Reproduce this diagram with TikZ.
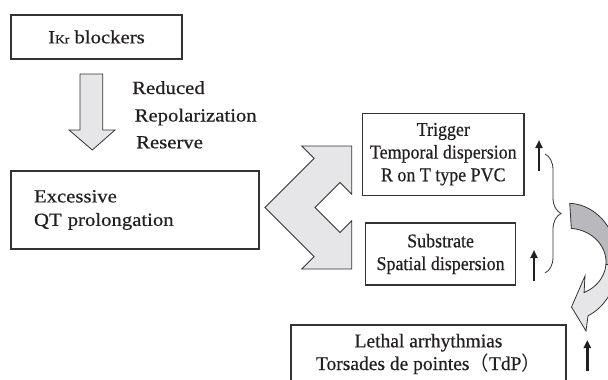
\documentclass[tikz,border=0pt]{standalone}
\usepackage{fontspec}
\setmainfont{Liberation Serif}
\newfontfamily\wideserif[FakeStretch=1.12,FakeBold=0.6]{Liberation Serif}
\newfontfamily\narrowserif[FakeStretch=0.92,FakeBold=0.5]{Liberation Serif}
\newfontfamily\midserif[FakeStretch=1.0,FakeBold=0.5]{Liberation Serif}
\newfontfamily\cjkfont{Noto Sans CJK JP}
\usetikzlibrary{arrows.meta,decorations.pathreplacing}
\definecolor{boxc}{HTML}{333333}
\definecolor{lightg}{HTML}{E6E6E8}
\definecolor{darkg}{HTML}{B9B9BD}
\definecolor{txt}{HTML}{231F20}
\begin{document}
\begin{tikzpicture}[x=1pt,y=-1pt,
  box/.style={draw=boxc, line width=1.1pt, inner sep=0pt, text=txt},
  lbl/.style={inner sep=0pt, text=txt, font=\wideserif\fontsize{18.5}{20}\selectfont},
  blockarrow/.style={fill=lightg, draw=boxc, line width=0.8pt, line join=miter},
  darkarrow/.style={fill=darkg, draw=boxc, line width=0.8pt, line join=miter},
  uparrow/.style={draw=txt, line width=2.4pt, -{Triangle[length=8pt,width=7pt]}},
  bracestyle/.style={draw=boxc, line width=0.8pt, decorate, decoration={brace, amplitude=16pt}}
]
\useasboundingbox (0,0) rectangle (608,380);
\clip (0,0) rectangle (608,380);

% boxes
\node[box, minimum width=171pt, minimum height=44pt,
      font=\wideserif\fontsize{18.5}{20}\selectfont] (ikr) at (96.5,37)
      {I{\fontsize{12}{12}\selectfont Kr} blockers};
\node[box, minimum width=248pt, minimum height=78pt, text width=202pt,
      inner xsep=23pt, align=left,
      font=\wideserif\fontsize{18.5}{23.5}\selectfont] (qt) at (135,210)
      {Excessive\\QT prolongation};
\node[box, minimum width=161.3pt, minimum height=81.7pt, align=center,
      font=\narrowserif\fontsize{19.5}{22.7}\selectfont] (trig) at (443.3,154.2)
      {Trigger\\Temporal dispersion\\R on T type PVC};
\node[box, minimum width=150.2pt, minimum height=62pt, align=center,
      font=\narrowserif\fontsize{19.5}{22.7}\selectfont] (sub) at (440.6,254)
      {Substrate\\Spatial dispersion};
\node[box, minimum width=275pt, minimum height=58pt, align=center,
      font=\midserif\fontsize{19.5}{22.7}\selectfont] (leth) at (428.5,354)
      {Lethal arrhythmias\\Torsades de pointes{\cjkfont （}TdP{\cjkfont ）}};

% down block arrow
\filldraw[blockarrow] (80,74) -- (102.7,74) -- (102.7,130) -- (115,130)
  -- (92.3,150) -- (69,130) -- (80,130) -- cycle;
\node[lbl, anchor=base west] (red) at (132,94) {Reduced};
\node[lbl, anchor=base west] (rep) at (134.5,121.5) {Repolarization};
\node[lbl, anchor=base west] (res) at (136,148.3) {Reserve};

% double chevron
\filldraw[blockarrow] (301.7,146) -- (351.7,146) -- (351.7,194.2) -- (340,182.5)
  -- (315,207.5) -- (340,232.5) -- (351.7,220.8) -- (351.7,269) -- (301.7,269)
  -- (314.1,256.6) -- (265,207.5) -- (314.1,158.4) -- cycle;

% up arrows
\coordinate (a1s) at (539,171); \coordinate (a1e) at (539,140);
\coordinate (a2s) at (534,281); \coordinate (a2e) at (534,250);
\coordinate (a3s) at (587.3,371); \coordinate (a3e) at (587.3,340);
\draw[uparrow] (a1s) -- (a1e);
\draw[uparrow] (a2s) -- (a2e);
\draw[uparrow] (a3s) -- (a3e);

% brace
\coordinate (bt) at (545,154); \coordinate (bb) at (545,273);
\draw[bracestyle] (bt) -- (bb);

% curved arrow
\filldraw[darkarrow] plot[domain=88:-4,samples=40] ({568+50*cos(\x)},{262-58.7*sin(\x)})
  -- plot[domain=-4:85,samples=40] ({568+38*cos(\x)},{262-33.7*sin(\x)}) -- cycle;
\filldraw[blockarrow] plot[domain=-4:-65,samples=40] ({568+38*cos(\x)},{262-33.7*sin(\x)})
  -- (585,276) -- (571.5,307) -- (586,331)
  -- plot[domain=-66.4:-4,samples=40] ({568+50*cos(\x)},{262-58.7*sin(\x)}) -- cycle;
\end{tikzpicture}
\end{document}
